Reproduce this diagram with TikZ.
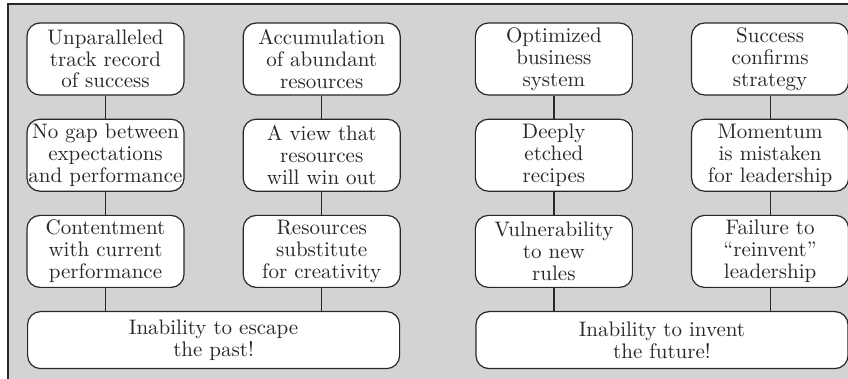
\documentclass[tikz,border=0pt]{standalone}
\usetikzlibrary{matrix,positioning,calc}
\definecolor{panelgray}{RGB}{211,211,213}
\definecolor{inkgray}{RGB}{40,40,40}

\begin{document}
\begin{tikzpicture}
    \tikzset{BoxStyle/.style = {draw=inkgray,line width=0.6pt,fill=white,rounded corners=6.5pt,
        text=inkgray,text width=78pt,align=center,minimum width=78.5pt,minimum height=36pt,
        inner xsep=0.2pt,inner ysep=1pt,font=\fontsize{10.5}{10.9}\selectfont}}
    \tikzset{WideBoxStyle/.style = {BoxStyle,text width=180pt,minimum width=186pt,minimum height=28.5pt}}
    \tikzset{LinkStyle/.style = {draw=inkgray,line width=0.6pt}}

    \useasboundingbox (0,0) rectangle (424pt,-189.5pt);
    % grey panel, runs off the right and bottom edges
    \draw[fill=panelgray,draw=inkgray,line width=0.6pt] (4pt,-2pt) rectangle (440pt,-200pt);

    \matrix [%
      matrix of nodes,
      inner sep=0pt,
      nodes={BoxStyle,anchor=center},
      column sep=29pt,
      row sep=11.5pt,
      matrix anchor=north west
    ] (tr) at (13pt,-11pt) {%
        {Unparalleled\\track record\\of success} &
        {Accumulation\\of abundant\\resources} &[8pt]
        {Optimized\\business\\system} &
        {Success\\confirms\\strategy} \\
        {No gap between\\expectations\\and performance} &
        {A view that\\resources\\will win out} &[8pt]
        {Deeply\\etched\\recipes} &
        {Momentum\\is mistaken\\for leadership} \\
        {Contentment\\with current\\performance} &
        {Resources\\substitute\\for creativity} &[8pt]
        {Vulnerability\\to new\\rules} &
        {Failure to\\``reinvent''\\leadership} \\
    };

    \coordinate (pastTop) at ($(tr-3-1.south)!.5!(tr-3-2.south)$);
    \coordinate (futureTop) at ($(tr-3-3.south)!.5!(tr-3-4.south)$);
    \node[WideBoxStyle, below=11.5pt of pastTop] (past) {Inability to escape\\the past!};
    \node[WideBoxStyle, below=11.5pt of futureTop] (future) {Inability to invent\\the future!};

    \foreach \c in {1,...,4} {
        \draw[LinkStyle] (tr-1-\c) -- (tr-2-\c) (tr-2-\c) -- (tr-3-\c);
    }
    \draw[LinkStyle]
    (tr-3-1) -- (tr-3-1 |- past.north) (tr-3-2) -- (tr-3-2 |- past.north)
    (tr-3-3) -- (tr-3-3 |- future.north) (tr-3-4) -- (tr-3-4 |- future.north);
\end{tikzpicture}
\end{document}
